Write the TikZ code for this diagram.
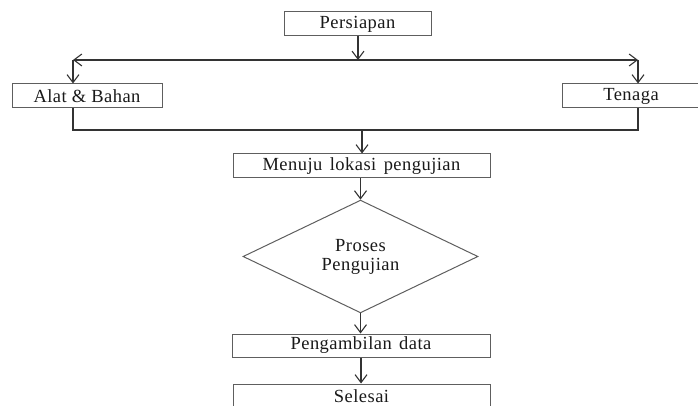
\documentclass[tikz,border=0pt]{standalone}
\usepackage{fontspec}
\setmainfont{Liberation Serif}[LetterSpace=2.5]
\usetikzlibrary{shapes.geometric, arrows.meta, positioning, calc}
\definecolor{linegray}{HTML}{333333}
\definecolor{boxgray}{HTML}{5e5e5e}

\begin{document}
\begin{tikzpicture}[
    x=1pt, y=-1pt,
    every node/.style={font=\fontsize{18.5}{21}\selectfont, align=center, text=black!90},
    process/.style={rectangle, draw=boxgray, line width=1pt, inner sep=0pt,
                    minimum height=24pt},
    decision/.style={diamond, draw=boxgray, line width=1pt, inner sep=0pt,
                     minimum width=235pt, minimum height=107pt},
    line/.style={line width=1.1pt, color=linegray},
    arr/.style={-{Straight Barb[length=8pt, width=12pt, line width=1.1pt]},
                line width=1.1pt, color=linegray}
]
\useasboundingbox (0,0) rectangle (698,406);

% Nodes
\node[process, minimum width=147pt] (persiapan) at (357.5,24) {Persiapan};
\node[process, minimum width=150pt] (alat) at (87,96) {Alat \& Bahan};
\node[process, minimum width=138pt] (tenaga) at (631,96) {Tenaga};
\node[process, minimum width=257pt] (menuju) at (361.5,166)
    {Menuju\hspace{0.4em}lokasi\hspace{0.4em}pengujian};
\node[decision] (proses) at (360.5,256.5) {Proses\\[-2pt]Pengujian};
\node[process, minimum width=258pt, minimum height=23pt] (pengambilan) at (361,345.5)
    {Pengambilan\hspace{0.4em}data};
\node[process, minimum width=257pt, minimum height=24pt] (selesai) at (361.5,396) {Selesai};

% Junctions
\coordinate (jt) at (358,60);
\coordinate (jl) at (73,60);
\coordinate (jr) at (638,60);
\coordinate (ml) at (73,130);
\coordinate (mr) at (638,130);
\coordinate (mc) at (362,130);

% Arrows
\draw[arr] (persiapan.south -| jt) -- (jt);
\draw[arr] (jt) -- (jl);
\draw[arr] (jt) -- (jr);
\draw[arr] (jl) -- (jl |- alat.north);
\draw[arr] (jr) -- (jr |- tenaga.north);
\draw[line] (alat.south -| ml) -- (ml) -- (mr) -- (tenaga.south -| mr);
\draw[arr] (mc) -- (mc |- menuju.north);
\draw[arr] (proses.north |- menuju.south) -- (proses.north);
\draw[arr] (proses.south) -- (proses.south |- pengambilan.north);
\draw[arr] (pengambilan.south) -- (pengambilan.south |- selesai.north);

\end{tikzpicture}
\end{document}
